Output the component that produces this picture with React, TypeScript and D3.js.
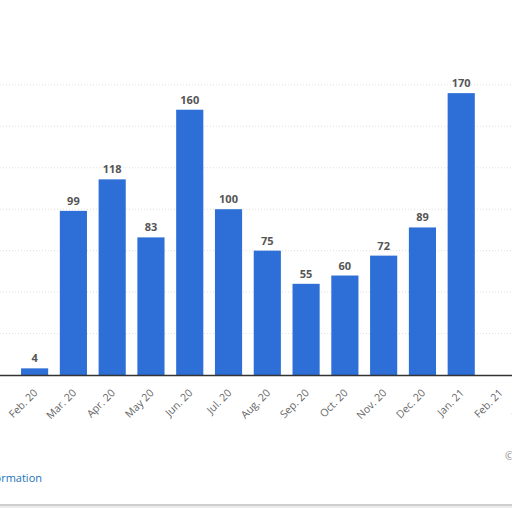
import * as d3 from "d3";

const months = [
  "Feb. 20", "Mar. 20", "Apr. 20", "May 20", "Jun. 20", "Jul. 20", "Aug. 20",
  "Sep. 20", "Oct. 20", "Nov. 20", "Dec. 20", "Jan. 21", "Feb. 21", "Mar. 21",
];
// last two months have no visible bar in the picture
const counts: (number | null)[] = [4, 99, 118, 83, 160, 100, 75, 55, 60, 72, 89, 170, null, null];
const gridTicks = [25, 50, 75, 100, 125, 150, 175];

const W = 512;
const H = 512;
const baseY = 375;
const blue = "#2d6fd6";
const font = "'Open Sans', 'DejaVu Sans', sans-serif";

export default function App() {
  const x = d3.scaleBand().domain(months).range([9.4, 564]).padding(0.3);
  const y = d3.scaleLinear().domain([0, 175]).range([baseY, baseY - 1.658 * 175]);

  return (
    <svg
      width={W}
      height={H}
      style={{ position: "absolute", left: 0, top: 0, background: "#fff" }}
    >
      {gridTicks.map((t) => (
        <line
          key={t}
          x1={0}
          x2={W}
          y1={y(t)}
          y2={y(t)}
          stroke="#e0e0e0"
          strokeDasharray="1,2"
        />
      ))}

      {months.map((m, i) => {
        const v = counts[i];
        if (v == null) return null;
        const bx = x(m)!;
        return (
          <g key={m}>
            <rect x={bx} y={y(v)} width={x.bandwidth()} height={baseY - y(v)} fill={blue} />
            <text
              x={bx + x.bandwidth() / 2}
              y={y(v) - 6}
              textAnchor="middle"
              fontFamily={font}
              fontSize={11}
              fontWeight="bold"
              fill="#555"
            >
              {v}
            </text>
          </g>
        );
      })}

      <line x1={0} x2={W} y1={baseY + 0.5} y2={baseY + 0.5} stroke="#333" strokeWidth={1.5} />

      {months.map((m) => {
        const cx = x(m)! + x.bandwidth() / 2;
        return (
          <text
            key={m}
            transform={`translate(${cx + 1},${baseY + 16}) rotate(-45)`}
            textAnchor="end"
            dy="0.35em"
            fontFamily={font}
            fontSize={10.5}
            fill="#666"
          >
            {m}
          </text>
        );
      })}

      <text x={42} y={482} textAnchor="end" fontFamily={font} fontSize={11} fill="#1a73b8">
        Additional Information
      </text>
      <text x={505} y={460} fontFamily={font} fontSize={11} fill="#888">
        © Statista 2021
      </text>

      <line x1={0} x2={W} y1={505} y2={505} stroke="#cfcfcf" strokeWidth={2} />
      <line x1={0} x2={W} y1={507} y2={507} stroke="#ececec" strokeWidth={2} />
    </svg>
  );
}
